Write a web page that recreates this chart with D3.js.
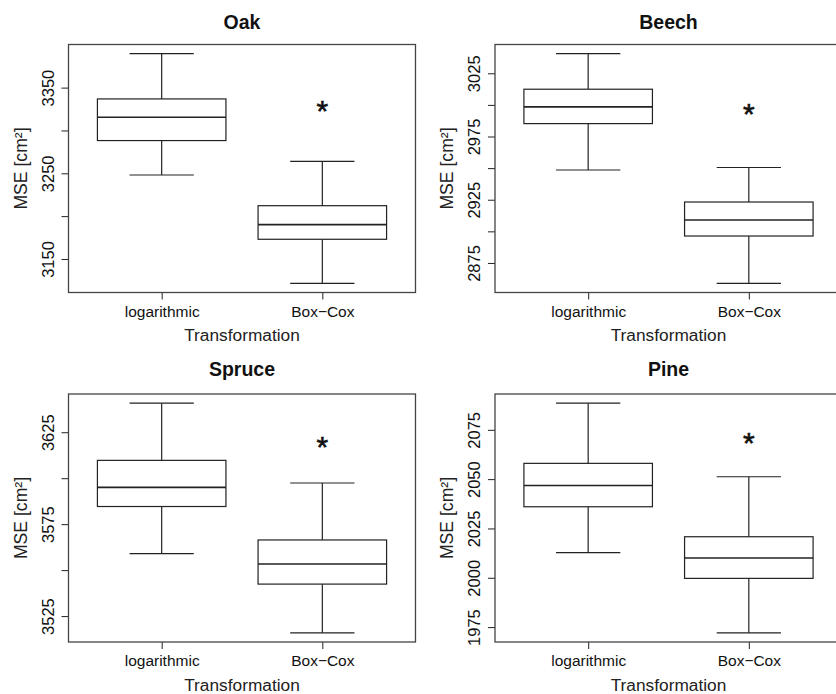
<!DOCTYPE html>
<html>
<head>
<meta charset="utf-8">
<script src="https://cdn.jsdelivr.net/npm/d3@7"></script>
<style>
  body { margin: 0; background: #fff; }
  svg { display: block; font-family: "Liberation Sans", Arial, sans-serif; }
</style>
</head>
<body>
<div id="chart"></div>
<script>
(function() {

const width = 836,
height = 694;

// chart values
const species = ["Oak", "Beech", "Spruce", "Pine"];
const transformations = ["logarithmic", "Box\u2212Cox"];

// [lower whisker, Q1, median, Q3, upper whisker] per transformation
const oakStats = [[3248, 3288.2, 3315.5, 3336.8, 3389.6], [3121.6, 3173, 3190.1, 3212.2, 3264]];
const beechStats = [[2948.5, 2985.2, 2998.4, 3012.4, 3040.5], [2858.9, 2896.3, 2909, 2923.2, 2950.5]];
const spruceStats = [[3559, 3584.6, 3595, 3609.7, 3640.8], [3515.9, 3542.4, 3553.3, 3566.4, 3597.4]];
const pineStats = [[2012.7, 2036, 2046.8, 2058, 2088.5], [1972.1, 1999.7, 2010, 2020.8, 2051.2]];

const oakOutliers = [[], [3326.7]];
const beechOutliers = [[], [2995.1]];
const spruceOutliers = [[], [3618.7]];
const pineOutliers = [[], [2069.7]];

const oakTicks = [3150, 3200, 3250, 3300, 3350];
const oakLabels = [3150, 3250, 3350];
const beechTicks = [2875, 2900, 2925, 2950, 2975, 3000, 3025];
const beechLabels = [2875, 2925, 2975, 3025];
const spruceTicks = [3525, 3550, 3575, 3600, 3625];
const spruceLabels = [3525, 3575, 3625];
const pineTicks = [1975, 2000, 2025, 2050, 2075];
const pineLabels = [1975, 2000, 2025, 2050, 2075];

const panels = [
  {name: species[0], stats: oakStats, out: oakOutliers, ticks: oakTicks, labels: oakLabels},
  {name: species[1], stats: beechStats, out: beechOutliers, ticks: beechTicks, labels: beechLabels},
  {name: species[2], stats: spruceStats, out: spruceOutliers, ticks: spruceTicks, labels: spruceLabels},
  {name: species[3], stats: pineStats, out: pineOutliers, ticks: pineTicks, labels: pineLabels}
];

// layout
const colLeft = [68.5, 495],
rowTop = [44.5, 394],
titleY = [29.3, 375.5],
pw = 347,
ph = 248;

const lineCol = "#222";

const svg = d3.select("#chart")
  .append("svg")
  .attr("width", width)
  .attr("height", height)
  .attr("viewBox", [0, 0, width, height]);

panels.forEach((p, i) => {
  const left = colLeft[i % 2],
  top = rowTop[Math.floor(i / 2)];

  const g = svg.append("g").attr("transform", `translate(${left},${top})`);

  // R style range: data extent padded by 4%
  const all = p.stats.flat().concat(p.out.flat());
  const ext = d3.extent(all);
  const pad = (ext[1] - ext[0]) * 0.04;

  const y = d3.scaleLinear().domain([ext[0] - pad, ext[1] + pad]).range([ph, 0]);
  const x = d3.scaleLinear().domain([0.42, 2.58]).range([0, pw]);

  // y axis
  const ya = g.append("g")
    .call(d3.axisLeft(y)
      .tickValues(p.ticks)
      .tickSize(7)
      .tickFormat(d => p.labels.includes(d) ? d : ""));
  ya.select(".domain").remove();
  ya.selectAll("line").attr("stroke", lineCol);
  ya.selectAll("text")
    .attr("transform", "rotate(-90)")
    .attr("x", 0)
    .attr("y", -15)
    .attr("dy", 0)
    .attr("text-anchor", "middle")
    .attr("fill", "#111")
    .attr("font-size", 16.5)
    .attr("font-family", "Liberation Sans, Arial, sans-serif");

  // x axis
  const xa = g.append("g")
    .attr("transform", `translate(0,${ph})`)
    .call(d3.axisBottom(x)
      .tickValues([1, 2])
      .tickSize(7)
      .tickFormat((d, k) => transformations[k]));
  xa.select(".domain").remove();
  xa.selectAll("line").attr("stroke", lineCol);
  xa.selectAll("text")
    .attr("y", 24)
    .attr("dy", 0)
    .attr("fill", "#111")
    .attr("font-size", 15.5)
    .attr("font-family", "Liberation Sans, Arial, sans-serif");

  // boxes
  const bw = 0.4, sw = 0.2;
  const box = g.selectAll(".bx")
    .data(p.stats)
    .join("g")
    .attr("class", "bx")
    .attr("fill", "none")
    .attr("stroke", lineCol)
    .attr("stroke-width", 1.2);

  // whiskers
  box.append("line")
    .attr("x1", (d, k) => x(k + 1)).attr("x2", (d, k) => x(k + 1))
    .attr("y1", d => y(d[0])).attr("y2", d => y(d[1]));
  box.append("line")
    .attr("x1", (d, k) => x(k + 1)).attr("x2", (d, k) => x(k + 1))
    .attr("y1", d => y(d[3])).attr("y2", d => y(d[4]));
  // staples
  box.append("line")
    .attr("x1", (d, k) => x(k + 1 - sw)).attr("x2", (d, k) => x(k + 1 + sw))
    .attr("y1", d => y(d[0])).attr("y2", d => y(d[0]));
  box.append("line")
    .attr("x1", (d, k) => x(k + 1 - sw)).attr("x2", (d, k) => x(k + 1 + sw))
    .attr("y1", d => y(d[4])).attr("y2", d => y(d[4]));
  // box
  box.append("rect")
    .attr("x", (d, k) => x(k + 1 - bw))
    .attr("width", x(1 + bw) - x(1 - bw))
    .attr("y", d => y(d[3]))
    .attr("height", d => y(d[1]) - y(d[3]))
    .attr("fill", "#fff");
  // median
  box.append("line")
    .attr("x1", (d, k) => x(k + 1 - bw)).attr("x2", (d, k) => x(k + 1 + bw))
    .attr("y1", d => y(d[2])).attr("y2", d => y(d[2]))
    .attr("stroke-width", 1.6);

  // outliers (pch = "*")
  p.out.forEach((vals, k) => {
    g.selectAll(null)
      .data(vals)
      .join("text")
      .attr("x", x(k + 1))
      .attr("y", d => y(d) + 13)
      .attr("text-anchor", "middle")
      .attr("font-size", 30)
      .attr("fill", "#111")
      .attr("stroke", "#111")
      .attr("stroke-width", 0.6)
      .text("*");
  });

  // frame
  g.append("rect")
    .attr("width", pw)
    .attr("height", ph)
    .attr("fill", "none")
    .attr("stroke", "#444")
    .attr("stroke-width", 1.3);

  // titles
  svg.append("text")
    .attr("x", left + pw / 2)
    .attr("y", titleY[Math.floor(i / 2)])
    .attr("text-anchor", "middle")
    .attr("font-size", 19.5)
    .attr("font-weight", "bold")
    .attr("fill", "#111")
    .text(p.name);

  g.append("text")
    .attr("x", pw / 2)
    .attr("y", ph + 48.5)
    .attr("text-anchor", "middle")
    .attr("font-size", 17.3)
    .attr("fill", "#222")
    .text("Transformation");

  g.append("text")
    .attr("transform", `translate(-42,${ph / 2}) rotate(-90)`)
    .attr("text-anchor", "middle")
    .attr("font-size", 17.6)
    .attr("fill", "#222")
    .text("MSE [cm\u00b2]");
});

})();
</script>
</body>
</html>
